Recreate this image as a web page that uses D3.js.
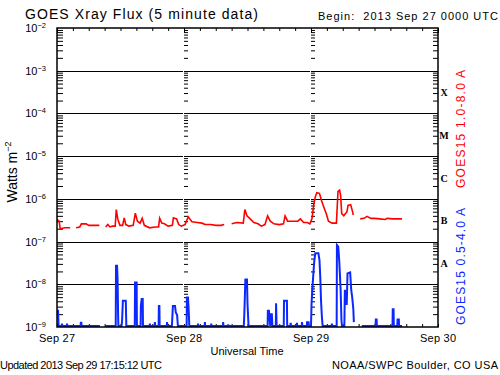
<!DOCTYPE html>
<html>
<head>
<meta charset="utf-8">
<script src="https://cdn.jsdelivr.net/npm/d3@7"></script>
<style>
  body { margin: 0; background: #fff; }
  text { font-family: "Liberation Sans", "DejaVu Sans", sans-serif; fill: #000; white-space: pre; }
</style>
</head>
<body>
<div id="chart"></div>
<script>
// time axis: hours since 2013 Sep 27 00:00 UT
var dayHours = [0, 24, 48, 72];
var dayLabels = ["Sep 27", "Sep 28", "Sep 29", "Sep 30"];
var decades = [1e-9, 1e-8, 1e-7, 1e-6, 1e-5, 1e-4, 1e-3, 1e-2];
var decadeExp = ["-9", "-8", "-7", "-6", "-5", "-4", "-3", "-2"];
var classNames = ["A", "B", "C", "M", "X"];
var classLow = [1e-8, 1e-7, 1e-6, 1e-5, 1e-4];

// GOES15 1.0-8.0 A (long channel), null = data gap
var redHours = [0, 0.4, 0.6, 1.5, 2.5, 3.0, 3.6, 4.3, 4.6, 5.5, 6.0, 7.0, 8.0, 8.4, 9.2, 9.6, 10.0, 10.5, 11.0, 11.2,
  11.5, 11.9, 12.4, 12.7, 13.0, 13.6, 14.4, 14.8, 15.2, 15.7, 16.1, 16.5, 17.5, 18.5, 19.2, 19.4, 19.8, 20.3, 21.0, 21.8,
  22.0, 22.6, 23.0, 23.5, 24.2, 24.8, 25.5, 26.5, 27.4, 28.0, 29.0, 30.0, 31.0, 31.6, 31.9, 33.0, 34.0, 35.2, 35.5, 35.9,
  36.5, 37.2, 38.0, 38.6, 39.3, 39.8, 40.3, 41.0, 42.0, 42.8, 43.1, 43.6, 44.5, 45.5, 46.0, 46.6, 47.3, 47.8, 48.2, 48.5,
  48.8, 49.1, 49.6, 50.0, 50.5, 50.9, 51.3, 52.0, 52.8, 53.1, 53.4, 53.6, 53.8, 54.2, 54.8, 55.0, 55.5, 55.8, 56.0, 56.1,
  57.3, 58.0, 58.6, 59.3, 60.0, 61.0, 62.0, 62.4, 63.5, 65.2];
var redFlux = [3.3e-7, 3.0e-7, 2.0e-7, 2.1e-7, 2.1e-7, null, 2.1e-7, 2.2e-7, 2.6e-7, 2.6e-7, 2.4e-7, 2.4e-7, 2.4e-7, null, 2.2e-7, 2.5e-7, 2.2e-7, 2.3e-7, 2.3e-7, 5.6e-7,
  3.3e-7, 2.4e-7, 2.4e-7, 3.6e-7, 2.5e-7, 2.3e-7, 2.4e-7, 4.6e-7, 3.0e-7, 2.7e-7, 3.5e-7, 2.4e-7, 2.1e-7, 2.2e-7, 2.2e-7, 3.5e-7, 2.7e-7, 2.6e-7, 2.3e-7, 2.4e-7,
  3.6e-7, 3.4e-7, 2.5e-7, 2.3e-7, 2.5e-7, 3.8e-7, 2.9e-7, 2.8e-7, 2.7e-7, 2.5e-7, 2.5e-7, 2.4e-7, 2.4e-7, 2.5e-7, null, 2.6e-7, 2.8e-7, 2.7e-7, 5.6e-7, 4.0e-7,
  3.4e-7, 2.8e-7, 2.6e-7, 2.3e-7, 2.5e-7, 4.0e-7, 3.0e-7, 2.6e-7, 2.5e-7, 2.6e-7, 4.0e-7, 3.0e-7, 3.0e-7, 3.0e-7, 3.4e-7, 2.8e-7, 2.8e-7, 2.6e-7, 3.5e-7, 7.0e-7,
  1.1e-6, 1.4e-6, 1.35e-6, 9.0e-7, 6.0e-7, 4.4e-7, 3.0e-7, 2.7e-7, 2.7e-7, 1.5e-6, 1.6e-6, 1.2e-6, 4.5e-7, 4.0e-7, 5.0e-7, 7.0e-7, 7.3e-7, 5.3e-7, 4.2e-7, null,
  3.4e-7, 3.5e-7, 3.9e-7, 3.5e-7, 3.5e-7, 3.4e-7, 3.3e-7, 3.5e-7, 3.4e-7, 3.4e-7];

// GOES15 0.5-4.0 A (short channel)
var blueHours = [0, 0.2, 0.3, 0.9, 0.95, 1.0, 1.85, 1.9, 1.95, 4.45, 4.5, 4.6, 4.65, 8.1, 8.15, 9.1, 11.1, 11.15, 11.35, 11.45,
  11.55, 11.6, 12.2, 12.3, 12.45, 13.0, 13.1, 14.7, 14.75, 15.05, 15.1, 15.8, 15.85, 16.0, 16.2, 16.25, 17.5, 17.55, 17.6, 18.45,
  18.5, 18.55, 19.2, 19.25, 19.35, 19.4, 20.75, 20.8, 20.85, 21.7, 21.75, 21.9, 22.3, 22.45, 22.7, 22.85, 24.5, 24.55, 24.75, 24.9,
  25.0, 26.6, 26.65, 26.7, 27.9, 27.95, 28.0, 29.1, 29.15, 29.2, 31.35, 31.4, 31.45, 32.3, 32.35, 32.4, 35.1, 35.3, 35.4, 35.6,
  35.9, 36.0, 36.2, 39.8, 39.85, 40.05, 40.3, 40.4, 40.6, 40.7, 41.35, 41.4, 41.5, 42.85, 42.9, 43.45, 43.5, 44.1, 44.15, 44.25,
  45.3, 45.35, 45.4, 46.25, 46.3, 46.35, 47.2, 47.25, 47.55, 47.6, 48.0, 48.1, 48.25, 48.45, 48.6, 48.8, 49.4, 49.6, 49.75, 49.9,
  50.05, 50.2, 51.9, 51.95, 52.0, 52.85, 52.9, 53.15, 53.35, 53.6, 53.75, 53.85, 54.3, 54.4, 54.6, 54.75, 54.9, 55.4, 55.6, 55.8,
  56.0, 56.1, 56.2, 57.6, 60.2, 60.25, 60.4, 60.45, 63.4, 63.45, 63.6, 63.65, 64.3, 64.35, 64.6, 64.65, 65.2];
var blueFlux = [2.4e-9, 2.4e-9, 1.05e-9, 1.05e-9, 1.2e-9, 1.05e-9, 1.05e-9, 1.2e-9, 1.05e-9, 1.05e-9, 1.25e-9, 1.25e-9, 1.05e-9, 1.05e-9, null, 1.05e-9, 1.05e-9, 2.7e-8, 2.7e-8, 1.3e-8,
  1.8e-9, 1.05e-9, 1.05e-9, 1.4e-9, 4.1e-9, 4.1e-9, 1.05e-9, 1.05e-9, 1.1e-8, 1.1e-8, 1.05e-9, 1.05e-9, 3.1e-9, 4.5e-9, 4.5e-9, 1.05e-9, 1.05e-9, 1.2e-9, 1.05e-9, 1.05e-9,
  1.3e-9, 1.05e-9, 1.05e-9, 3.1e-9, 3.1e-9, 1.05e-9, 1.05e-9, 1.3e-9, 1.05e-9, 1.05e-9, 1.3e-9, 3.1e-9, 3.1e-9, 2.2e-9, 1.9e-9, 1.05e-9, 1.05e-9, 4.9e-9, 4.9e-9, 2.3e-9,
  1.05e-9, 1.05e-9, 1.2e-9, 1.05e-9, 1.05e-9, 1.3e-9, 1.05e-9, 1.05e-9, 1.2e-9, 1.05e-9, 1.05e-9, 1.3e-9, 1.05e-9, 1.05e-9, 1.15e-9, 1.05e-9, 1.05e-9, 1.05e-9, 2.0e-9, 1.3e-8,
  1.3e-8, 3.5e-9, 1.05e-9, 1.05e-9, 2.4e-9, 2.4e-9, 1.05e-9, 2.0e-9, 2.0e-9, 1.05e-9, 1.05e-9, 3.6e-9, 1.05e-9, 1.05e-9, 4.1e-9, 4.1e-9, 1.05e-9, 1.05e-9, 1.25e-9, 1.05e-9,
  1.05e-9, 1.25e-9, 1.05e-9, 1.05e-9, 1.3e-9, 1.05e-9, 1.05e-9, 1.3e-9, 1.3e-9, 1.05e-9, 1.05e-9, 3.5e-9, 7.5e-9, 1.8e-8, 3.3e-8, 5.3e-8, 5.3e-8, 3.7e-8, 1.5e-8, 4.0e-9,
  1.8e-9, 1.05e-9, 1.05e-9, 1.2e-9, 1.05e-9, 1.05e-9, 8.3e-8, 7.6e-8, 3.3e-8, 7.4e-9, 1.5e-9, 1.05e-9, 1.05e-9, 7.4e-9, 5.0e-9, 3.3e-9, 1.8e-8, 1.9e-8, 7.4e-9, 4.8e-9,
  2.6e-9, 1.3e-9, null, 1.05e-9, 1.05e-9, 1.5e-9, 1.5e-9, 1.05e-9, 1.05e-9, 2.6e-9, 2.6e-9, 1.05e-9, 1.05e-9, 1.5e-9, 1.5e-9, 1.05e-9, 1.05e-9];

var width = 500, height = 375;
var plotLeft = 57, plotRight = 438, plotTop = 28, plotBottom = 327;

var svg = d3.select("#chart").append("svg").attr("width", width).attr("height", height);

var x = d3.scaleLinear().domain([0, 72]).range([plotLeft, plotRight]);
var y = d3.scaleLog().domain([1e-9, 1e-2]).range([plotBottom, plotTop]);

// log minor ticks 2..9 in every decade
var minor = [];
decades.slice(0, -1).forEach(function(d) {
	for (var k = 2; k <= 9; k++) minor.push(d * k);
});
var threeHours = d3.range(0, 73, 3);

svg.append("defs").append("clipPath").attr("id", "plotclip")
	.append("rect").attr("x", plotLeft).attr("y", plotTop)
	.attr("width", plotRight - plotLeft).attr("height", plotBottom - plotTop);

// decade grid lines
svg.append("g").selectAll("line").data(decades.slice(1, -1)).enter().append("line")
	.attr("x1", plotLeft).attr("x2", plotRight)
	.attr("y1", function(d) { return Math.round(y(d)) + 0.5; })
	.attr("y2", function(d) { return Math.round(y(d)) + 0.5; })
	.attr("stroke", "#000").attr("stroke-width", 1.2);

// little white break in grid at day boundaries
svg.append("g").selectAll("line").data(dayHours.slice(1, 3)).enter().append("line")
	.attr("x1", function(d) { return Math.round(x(d)) - 0.5; })
	.attr("x2", function(d) { return Math.round(x(d)) - 0.5; })
	.attr("y1", plotTop + 2).attr("y2", plotBottom - 2)
	.attr("stroke", "#fff").attr("stroke-width", 1);

var styleAxis = function(g) {
	g.select(".domain").remove();
	g.selectAll(".tick line").attr("stroke", "#000").attr("stroke-width", 1);
	g.selectAll(".tick text").remove();
};

// minor y ticks: left, right and at each day boundary
svg.append("g").attr("transform", "translate(" + plotLeft + ",0)")
	.call(d3.axisRight(y).tickValues(minor).tickSize(6).tickFormat("")).call(styleAxis);
svg.append("g").attr("transform", "translate(" + plotRight + ",0)")
	.call(d3.axisLeft(y).tickValues(minor).tickSize(5).tickFormat("")).call(styleAxis);
dayHours.slice(1, 3).forEach(function(h) {
	svg.append("g").attr("transform", "translate(" + Math.round(x(h)) + ",0)")
		.call(d3.axisRight(y).tickValues(minor).tickSize(4).tickFormat("")).call(styleAxis);
});

// time ticks every 3 hours on top and bottom
svg.append("g").attr("transform", "translate(0," + plotTop + ")")
	.call(d3.axisBottom(x).tickValues(threeHours).tickSize(3).tickFormat("")).call(styleAxis);
svg.append("g").attr("transform", "translate(0," + plotBottom + ")")
	.call(d3.axisTop(x).tickValues(threeHours).tickSize(3).tickFormat("")).call(styleAxis);
svg.append("g").attr("transform", "translate(0," + plotTop + ")")
	.call(d3.axisBottom(x).tickValues(dayHours).tickSize(5).tickFormat("")).call(styleAxis);

// data
var plot = svg.append("g").attr("clip-path", "url(#plotclip)");
var line = d3.line()
	.defined(function(d) { return d[1] !== null; })
	.x(function(d) { return x(d[0]); })
	.y(function(d) { return y(d[1]); });

plot.append("path").datum(d3.zip(redHours, redFlux))
	.attr("d", line).attr("fill", "none").attr("stroke", "#ff0000").attr("stroke-width", 1.6);
plot.append("path").datum(d3.zip(blueHours, blueFlux))
	.attr("d", line).attr("fill", "none").attr("stroke", "#0a28ff").attr("stroke-width", 2);

// frame
svg.append("rect").attr("x", plotLeft).attr("y", plotTop)
	.attr("width", plotRight - plotLeft).attr("height", plotBottom - plotTop)
	.attr("fill", "none").attr("stroke", "#000").attr("stroke-width", 1.5);

// y labels 10^n
var ylab = svg.append("g").selectAll("text").data(decades).enter().append("text")
	.attr("x", 46).attr("y", function(d) { return y(d) + 4; })
	.attr("text-anchor", "end").style("font-size", "11px")
	.text("10");
ylab.append("tspan").attr("dy", -4).style("font-size", "7.5px")
	.text(function(d, i) { return decadeExp[i].replace("-", "\u2212"); });

svg.append("text").attr("transform", "translate(17,172) rotate(-90)")
	.attr("text-anchor", "middle").style("font-size", "14px")
	.text("Watts m")
	.append("tspan").attr("dy", -6).style("font-size", "9px").text("\u22122");

// flare class letters
svg.append("g").selectAll("text").data(classNames).enter().append("text")
	.attr("x", 444).attr("y", function(d, i) { return y(classLow[i] * Math.sqrt(10)) + 4; })
	.attr("text-anchor", "middle")
	.style("font-family", "'Liberation Serif', serif").style("font-weight", "bold").style("font-size", "10px")
	.text(function(d) { return d; });

// channel labels
svg.append("text").attr("transform", "translate(465,129) rotate(-90)")
	.attr("text-anchor", "middle").attr("textLength", 118).style("font-size", "12px").style("fill", "#ff0000")
	.text("GOES15 1.0-8.0 A");
svg.append("text").attr("transform", "translate(465,266.5) rotate(-90)")
	.attr("text-anchor", "middle").attr("textLength", 117).style("font-size", "12px").style("fill", "#0a28ff")
	.text("GOES15 0.5-4.0 A");

// day labels
svg.append("g").selectAll("text").data(dayHours).enter().append("text")
	.attr("x", function(d) { return x(d); }).attr("y", 342)
	.attr("text-anchor", "middle").attr("textLength", 36).style("font-size", "11px")
	.text(function(d, i) { return dayLabels[i]; });

svg.append("text").attr("x", 247).attr("y", 355).attr("text-anchor", "middle")
	.attr("textLength", 73).style("font-size", "11px").text("Universal Time");

svg.append("text").attr("x", 25).attr("y", 19).attr("textLength", 233)
	.style("font-size", "14px").text("GOES Xray Flux (5 minute data)");
svg.append("text").attr("x", 318).attr("y", 20).attr("textLength", 180)
	.style("font-size", "11px").text("Begin:  2013 Sep 27 0000 UTC");
svg.append("text").attr("x", 0).attr("y", 369).attr("textLength", 162)
	.style("font-size", "11px").text("Updated 2013 Sep 29 17:15:12 UTC");
svg.append("text").attr("x", 332).attr("y", 369).attr("textLength", 166)
	.style("font-size", "11px").text("NOAA/SWPC Boulder, CO USA");
</script>
</body>
</html>
